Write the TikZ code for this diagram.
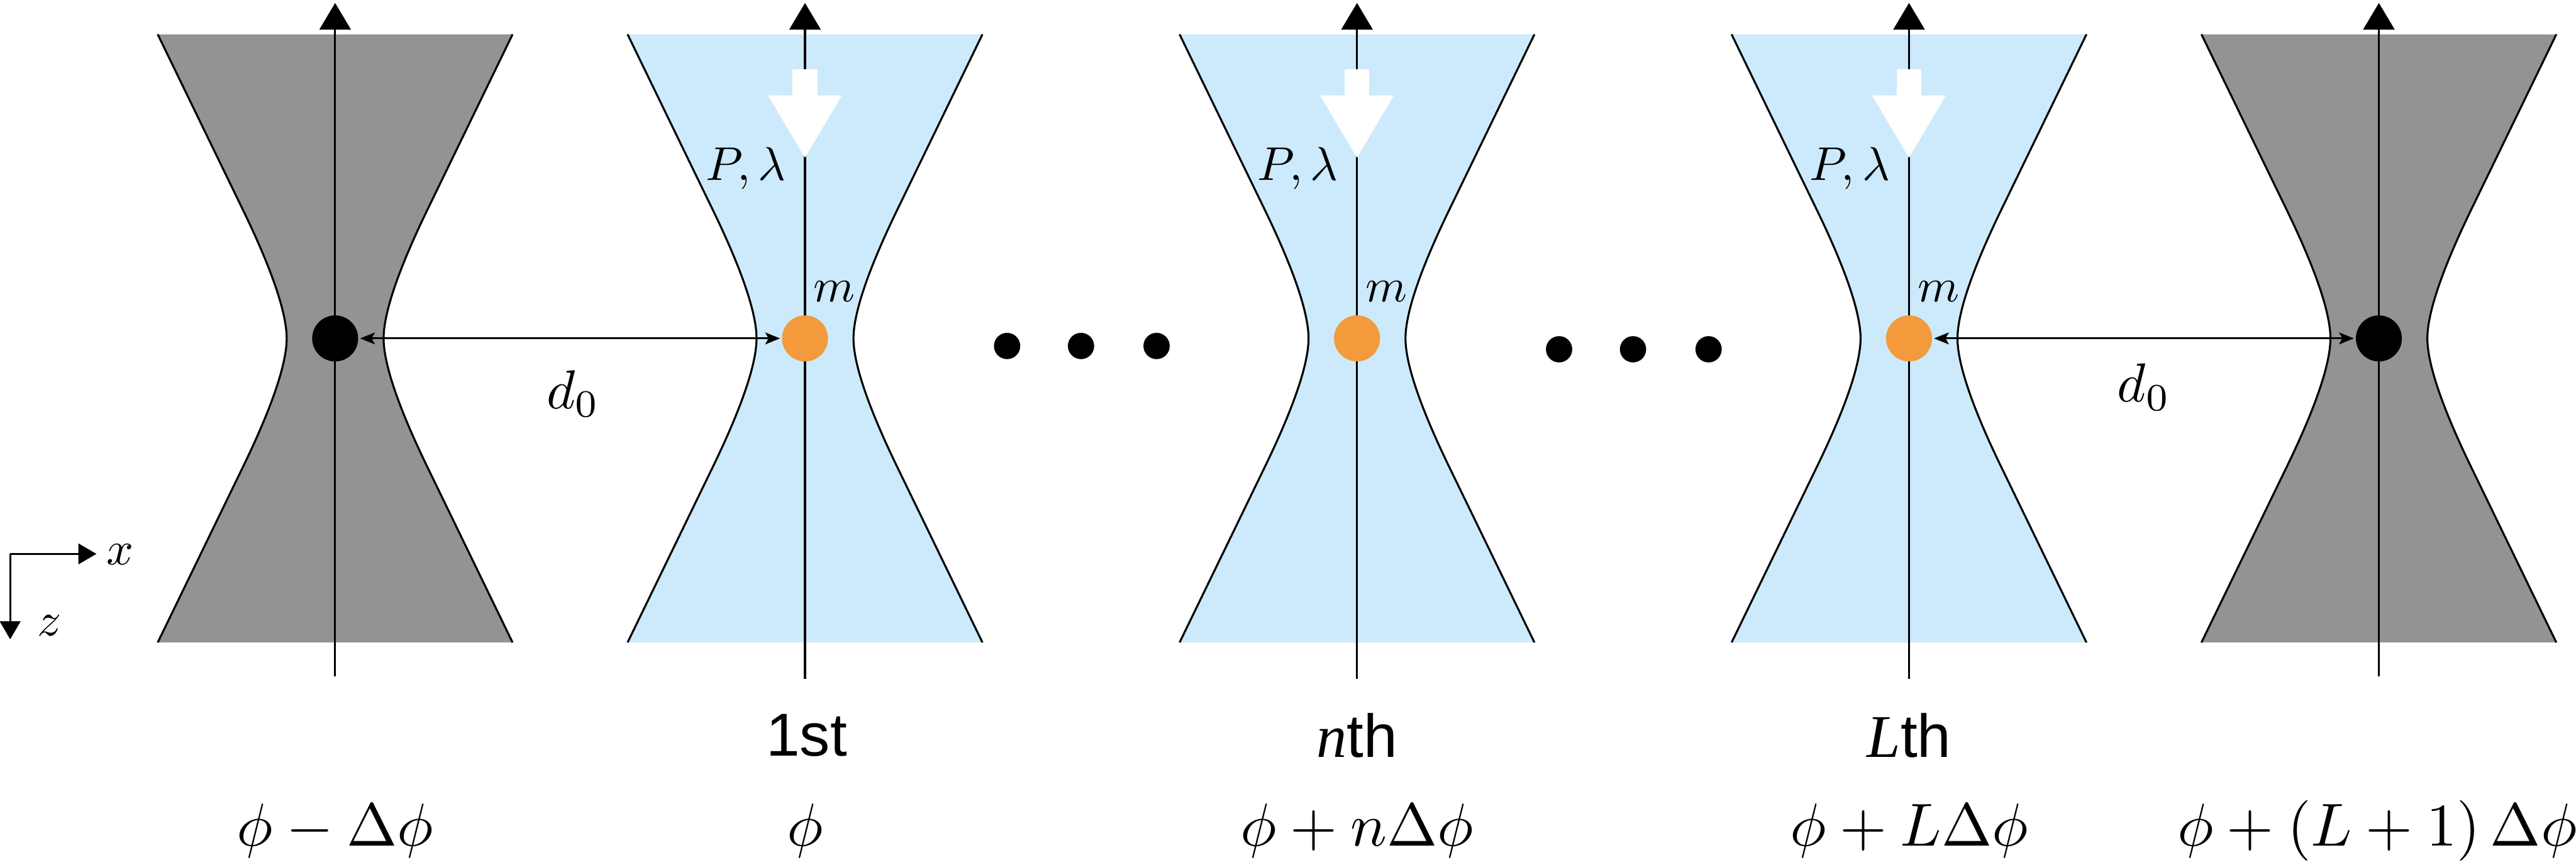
\documentclass[tikz,border=0pt]{standalone}
\usepackage{amsmath, amssymb, fontspec}
\usetikzlibrary{arrows.meta, positioning}
\newfontfamily\arialfont{Liberation Sans}
\newfontfamily\timesfont{Liberation Serif}

\definecolor{beamblue}{RGB}{204,234,251}
\definecolor{beamgray}{RGB}{146,148,147}
\definecolor{atomorange}{RGB}{243,154,60}

\newcommand{\beamleft}{(-1.08,1.85) -- (-0.57,0.8) .. controls (-0.35,0.35) and (-0.295,0.12) .. (-0.295,0) .. controls (-0.295,-0.12) and (-0.35,-0.35) .. (-0.57,-0.8) -- (-1.08,-1.85)}
\newcommand{\beamright}{(1.08,-1.85) -- (0.57,-0.8) .. controls (0.35,-0.35) and (0.295,-0.12) .. (0.295,0) .. controls (0.295,0.12) and (0.35,0.35) .. (0.57,0.8) -- (1.08,1.85)}
\newcommand{\beam}[2]{
        \begin{scope}[shift={(#1, 3.216)}]
        \fill[#2] \beamleft -- \beamright -- cycle;
        \draw[thinline] \beamleft;
        \draw[thinline] \beamright;
        \end{scope}
}

\tikzset{
  thinline/.style={line width=0.012cm, black},
  axisline/.style={thinline, -{Triangle[length=0.162cm, width=0.19cm]}},
  frameline/.style={thinline, -{Triangle[length=0.11cm, width=0.125cm]}},
  gapline/.style={line width=0.011cm, black, {Stealth[length=0.09cm, width=0.072cm, inset=0.02cm]}-{Stealth[length=0.09cm, width=0.072cm, inset=0.02cm]}, shorten >=0.005cm, shorten <=0.005cm},
  pumpline/.style={line width=0.15cm, white, -{Triangle[length=0.386cm, width=0.42cm]}},
  atomorange/.style={circle, fill=atomorange, inner sep=0, minimum size=0.28cm},
  atomblack/.style={circle, fill=black, inner sep=0, minimum size=0.28cm},
  dotnode/.style={circle, fill=black, inner sep=0, minimum size=0.16cm},
  biglabel/.style={scale=1.05, inner sep=0},
  midlabel/.style={scale=0.95, inner sep=0},
  smalllabel/.style={scale=0.82, inner sep=0},
}

\begin{document}
\begin{tikzpicture}

        \useasboundingbox (0, 0) rectangle (15.68, 5.275);

        \beam{2.04}{beamgray}
        \beam{4.90}{beamblue}
        \beam{8.26}{beamblue}
        \beam{11.62}{beamblue}
        \beam{14.48}{beamgray}

        \coordinate (bot0) at (2.04, 1.16);   \coordinate (top0) at (2.04, 5.257);
        \coordinate (bot1) at (4.90, 1.145);  \coordinate (top1) at (4.90, 5.257);
        \coordinate (botn) at (8.26, 1.145);  \coordinate (topn) at (8.26, 5.257);
        \coordinate (botL) at (11.62, 1.145); \coordinate (topL) at (11.62, 5.257);
        \coordinate (botE) at (14.48, 1.16);  \coordinate (topE) at (14.48, 5.257);

        \draw[axisline] (bot0) -- (top0);
        \draw[axisline] (bot1) -- (top1);
        \draw[axisline] (botn) -- (topn);
        \draw[axisline] (botL) -- (topL);
        \draw[axisline] (botE) -- (topE);

        \coordinate (pump1a) at (4.90, 4.855);  \coordinate (pump1b) at (4.90, 4.309);
        \coordinate (pumpna) at (8.26, 4.855);  \coordinate (pumpnb) at (8.26, 4.309);
        \coordinate (pumpLa) at (11.62, 4.855); \coordinate (pumpLb) at (11.62, 4.309);

        \draw[pumpline] (pump1a) -- (pump1b);
        \draw[pumpline] (pumpna) -- (pumpnb);
        \draw[pumpline] (pumpLa) -- (pumpLb);

        \node[atomblack] (atom0) at (2.04, 3.216) {};
        \node[atomorange] (atom1) at (4.90, 3.216) {};
        \node[atomorange] (atomn) at (8.26, 3.216) {};
        \node[atomorange] (atomL) at (11.62, 3.216) {};
        \node[atomblack] (atomE) at (14.48, 3.216) {};

        \draw[gapline] (atom0) -- (atom1);
        \draw[gapline] (atomL) -- (atomE);

        \node[midlabel] (gap0) at (3.49, 2.88) {$d_0$};
        \node[midlabel] (gapE) at (13.05, 2.92) {$d_0$};

        \node[smalllabel] (pow1) at (4.54, 4.25) {$P,\lambda$};
        \node[smalllabel] (pown) at (7.90, 4.25) {$P,\lambda$};
        \node[smalllabel] (powL) at (11.26, 4.25) {$P,\lambda$};

        \node[smalllabel] (mass1) at (5.08, 3.50) {$m$};
        \node[smalllabel] (massn) at (8.44, 3.50) {$m$};
        \node[smalllabel] (massL) at (11.80, 3.50) {$m$};

        \node[dotnode] (dot1) at (6.13, 3.17) {};
        \node[dotnode] (dot2) at (6.58, 3.17) {};
        \node[dotnode] (dot3) at (7.04, 3.17) {};
        \node[dotnode] (dot4) at (9.49, 3.15) {};
        \node[dotnode] (dot5) at (9.94, 3.15) {};
        \node[dotnode] (dot6) at (10.40, 3.15) {};

        \node[biglabel] (ord1) at (4.91, 0.80) {\arialfont 1st};
        \node[biglabel] (ordn) at (8.26, 0.80) {{\timesfont\itshape n}\arialfont th};
        \node[biglabel] (ordL) at (11.62, 0.80) {{\timesfont\itshape L}\arialfont th};

        \node[biglabel] (phase0) at (2.04, 0.22) {$\phi-\Delta\phi$};
        \node[biglabel] (phase1) at (4.90, 0.22) {$\phi$};
        \node[biglabel] (phasen) at (8.26, 0.22) {$\phi+n\Delta\phi$};
        \node[biglabel] (phaseL) at (11.62, 0.22) {$\phi+L\Delta\phi$};
        \node[biglabel] (phaseE) at (14.47, 0.22) {$\phi+\left(L+1\right)\Delta\phi$};

        \coordinate (origin) at (0.062, 1.905);
        \coordinate (xend) at (0.587, 1.905);
        \coordinate (zend) at (0.062, 1.385);
        \draw[frameline] (origin) -- (xend);
        \draw[frameline] (origin) -- (zend);
        \node[smalllabel] (xlabel) at (0.73, 1.90) {$x$};
        \node[smalllabel] (zlabel) at (0.30, 1.47) {$z$};

\end{tikzpicture}
\end{document}
